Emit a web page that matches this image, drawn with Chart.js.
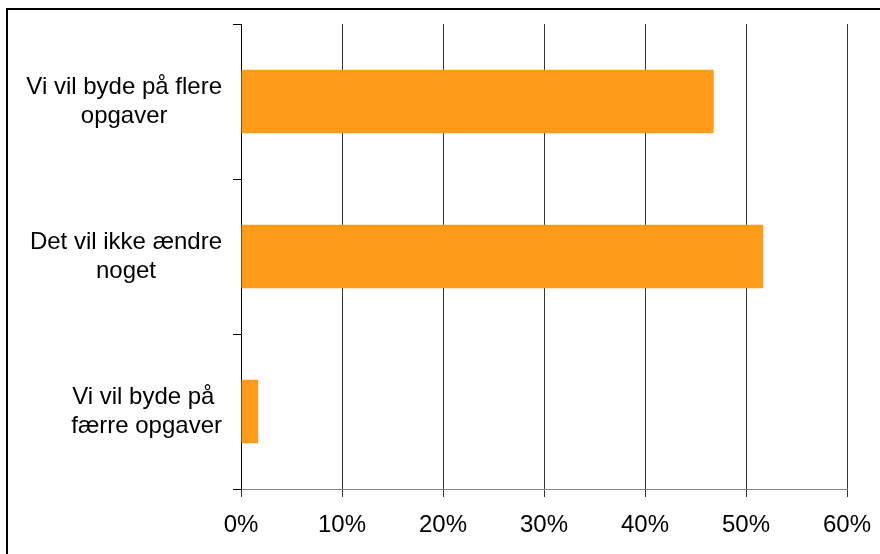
<!DOCTYPE html>
<html>
<head>
<meta charset="utf-8">
<script src="https://cdn.jsdelivr.net/npm/chart.js@4/dist/chart.umd.min.js"></script>
<style>
    html, body { margin: 0; padding: 0; background: #fff; }
    #wrap { width: 880px; height: 554px; }
</style>
</head>
<body>
<div id="wrap"><canvas id="chart" width="880" height="554"></canvas></div>
<script>
// Answers, one entry per bar (each label split into its two lines)
const categories = [
    ["Vi vil byde på flere", "opgaver"],
    ["Det vil ikke ændre", "noget"],
    ["Vi vil byde på ", "færre opgaver"]
];
const shares = [46.8, 51.7, 1.7];
const xTicks = [0, 10, 20, 30, 40, 50, 60];

const barColor = "#FF9B19";
const labelFont = "'Liberation Sans', Arial, sans-serif";
const labelSize = 24;
const labelLine = 29;

// thin black frame round the whole chart
const framePlugin = {
    id: "frame",
    afterDraw(chart) {
        const ctx = chart.ctx;
        ctx.save();
        ctx.strokeStyle = "#000";
        ctx.lineWidth = 2;
        ctx.strokeRect(7, 9, 900, 600);
        ctx.restore();
    }
};

// category labels: each block sits against the axis, its lines centred inside it
const categoryLabels = {
    id: "categoryLabels",
    afterDraw(chart) {
        const ctx = chart.ctx;
        const yScale = chart.scales.y;
        const rightEdge = yScale.right - 19;
        ctx.save();
        ctx.font = `${labelSize}px ${labelFont}`;
        ctx.fillStyle = "#000";
        ctx.textAlign = "center";
        ctx.textBaseline = "middle";
        yScale.ticks.forEach((tick, i) => {
            const lines = chart.data.labels[i];
            const widest = Math.max(...lines.map(l => ctx.measureText(l).width));
            const cx = rightEdge - widest / 2;
            const cy = yScale.getPixelForTick(i);
            const top = cy - (lines.length - 1) * labelLine / 2;
            lines.forEach((line, j) => ctx.fillText(line, cx, top + j * labelLine));
        });
        ctx.restore();
    }
};

const ctx = document.getElementById("chart").getContext("2d");
new Chart(ctx, {
    type: "bar",
    data: {
        labels: categories,
        datasets: [{
            data: shares,
            backgroundColor: barColor,
            borderWidth: 0,
            categoryPercentage: 1,
            barPercentage: 0.41
        }]
    },
    options: {
        indexAxis: "y",
        responsive: false,
        animation: false,
        events: [],
        layout: { padding: { top: 24, right: 33, left: 0, bottom: 0 } },
        plugins: {
            legend: { display: false },
            tooltip: { enabled: false }
        },
        scales: {
            x: {
                min: xTicks[0],
                max: xTicks[xTicks.length - 1],
                afterBuildTicks: (scale) => {
                    scale.ticks = xTicks.map(v => ({ value: v }));
                },
                afterFit: (scale) => {
                    scale.height = 65;
                    scale.paddingLeft = 0;
                    scale.paddingRight = 0;
                },
                ticks: {
                    color: "#000",
                    padding: 14,
                    maxRotation: 0,
                    font: { family: labelFont, size: labelSize },
                    callback: (v) => v + "%"
                },
                grid: {
                    color: "#333",
                    lineWidth: 1,
                    tickLength: 8,
                    drawOnChartArea: true
                },
                border: { display: true, color: "#888", width: 1 }
            },
            y: {
                afterFit: (scale) => {
                    scale.width = 241;
                    scale.paddingTop = 0;
                    scale.paddingBottom = 0;
                },
                ticks: { display: false },
                grid: {
                    offset: true,
                    color: "#000",
                    tickLength: 8,
                    drawOnChartArea: false
                },
                border: { display: true, color: "#000", width: 1 }
            }
        }
    },
    plugins: [framePlugin, categoryLabels]
});
</script>
</body>
</html>
